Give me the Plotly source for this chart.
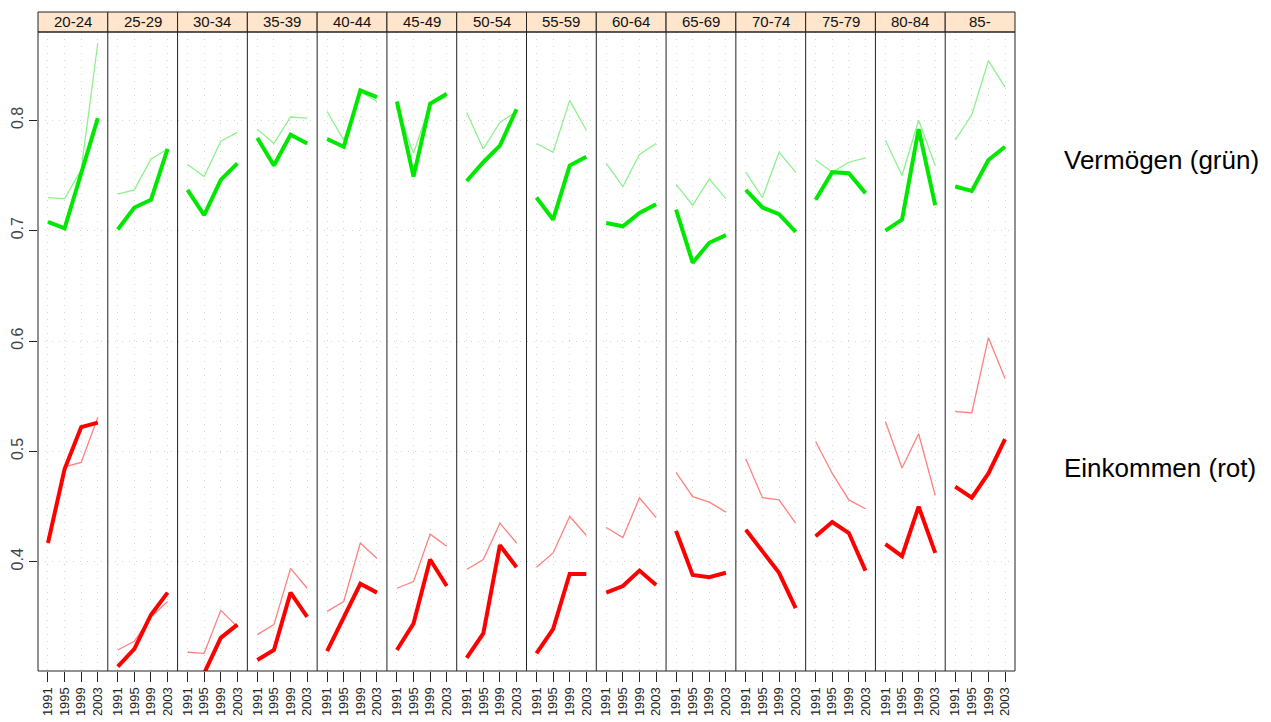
import plotly.graph_objects as go

groups = ["20-24", "25-29", "30-34", "35-39", "40-44", "45-49", "50-54",
          "55-59", "60-64", "65-69", "70-74", "75-79", "80-84", "85-"]
years = [1991, 1995, 1999, 2003]
year_labels = ["1991", "1995", "1999", "2003"]

# Vermögen (grün): thick and thin series
verm_thick = [
    [0.708, 0.702, 0.752, 0.802],
    [0.701, 0.721, 0.728, 0.774],
    [0.737, 0.714, 0.746, 0.761],
    [0.784, 0.759, 0.787, 0.779],
    [0.783, 0.776, 0.827, 0.821],
    [0.817, 0.749, 0.815, 0.824],
    [0.745, 0.762, 0.777, 0.810],
    [0.730, 0.710, 0.759, 0.767],
    [0.707, 0.704, 0.716, 0.724],
    [0.719, 0.671, 0.689, 0.696],
    [0.737, 0.721, 0.715, 0.699],
    [0.728, 0.753, 0.752, 0.734],
    [0.700, 0.710, 0.792, 0.723],
    [0.740, 0.736, 0.764, 0.776],
]
verm_thin = [
    [0.730, 0.729, 0.755, 0.870],
    [0.733, 0.737, 0.765, 0.774],
    [0.760, 0.749, 0.781, 0.789],
    [0.792, 0.779, 0.803, 0.802],
    [0.808, 0.782, 0.826, 0.817],
    [0.812, 0.770, 0.815, 0.821],
    [0.807, 0.774, 0.798, 0.808],
    [0.779, 0.771, 0.818, 0.791],
    [0.761, 0.740, 0.769, 0.779],
    [0.742, 0.723, 0.747, 0.729],
    [0.753, 0.730, 0.771, 0.753],
    [0.764, 0.753, 0.762, 0.766],
    [0.782, 0.750, 0.800, 0.759],
    [0.782, 0.805, 0.854, 0.830],
]
# Einkommen (rot): thick and thin series
eink_thick = [
    [0.417, 0.484, 0.522, 0.526],
    [0.305, 0.321, 0.352, 0.372],
    [0.285, 0.299, 0.331, 0.343],
    [0.311, 0.320, 0.372, 0.350],
    [0.319, 0.350, 0.380, 0.372],
    [0.320, 0.344, 0.402, 0.378],
    [0.313, 0.335, 0.415, 0.395],
    [0.317, 0.339, 0.389, 0.389],
    [0.372, 0.378, 0.392, 0.379],
    [0.428, 0.388, 0.386, 0.390],
    [0.429, 0.410, 0.390, 0.358],
    [0.423, 0.436, 0.426, 0.392],
    [0.416, 0.405, 0.450, 0.408],
    [0.468, 0.458, 0.480, 0.511],
]
eink_thin = [
    [0.418, 0.486, 0.490, 0.531],
    [0.320, 0.328, 0.350, 0.364],
    [0.318, 0.317, 0.356, 0.341],
    [0.334, 0.343, 0.394, 0.376],
    [0.355, 0.364, 0.417, 0.403],
    [0.376, 0.382, 0.425, 0.414],
    [0.393, 0.402, 0.435, 0.417],
    [0.395, 0.408, 0.441, 0.424],
    [0.431, 0.422, 0.458, 0.440],
    [0.481, 0.459, 0.454, 0.445],
    [0.493, 0.458, 0.456, 0.435],
    [0.509, 0.480, 0.456, 0.448],
    [0.527, 0.485, 0.516, 0.460],
    [0.536, 0.535, 0.603, 0.566],
]

FONT = "Liberation Sans, Arial, sans-serif"
W, H = 1271, 722
OFF = 8  # page body margin
L, T = 38 - OFF, 32 - OFF
R = W - (1015 - OFF)
B = H - (671 - OFF)
n = len(groups)
plot_h = H - T - B
plot_w = W - L - R
strip_h = 20 / plot_h

fig = go.Figure()
shapes = []
annotations = []

for i, g in enumerate(groups):
    ax = "" if i == 0 else str(i + 1)
    xa, ya = "x" + ax, "y" + ax
    series = [
        (verm_thin[i], "#8ff08f", 1.3),
        (eink_thin[i], "#ff8080", 1.3),
        (verm_thick[i], "#00e800", 4),
        (eink_thick[i], "#ff0000", 4),
    ]
    for vals, col, w in series:
        fig.add_trace(go.Scatter(x=years, y=vals, mode="lines", xaxis=xa, yaxis=ya,
                                 line=dict(color=col, width=w), showlegend=False,
                                 hoverinfo="skip"))
    d0, d1 = i / n, (i + 1) / n
    fig.layout["xaxis" + ax] = dict(
        domain=[d0, d1], range=[1988.6, 2005.4], tickvals=years, ticktext=year_labels,
        tickangle=-90, ticks="outside", ticklen=10, tickcolor="#222",
        tickfont=dict(size=13, color="#222", family=FONT),
        showline=False,
        showgrid=True, gridcolor="#d4d4d4", gridwidth=1, griddash="1px,6px",
        zeroline=False, anchor=ya, fixedrange=True, automargin=False,
    )
    ydict = dict(
        range=[0.301, 0.880], tickvals=[0.4, 0.5, 0.6, 0.7, 0.8],
        showline=False,
        showgrid=True, gridcolor="#d4d4d4", gridwidth=1, griddash="1px,6px",
        zeroline=False, anchor=xa, domain=[0, 1], fixedrange=True, automargin=False,
    )
    if i == 0:
        ydict.update(ticks="outside", ticklen=8, tickcolor="#222", tickangle=-90,
                     tickfont=dict(size=16, color="#444", family=FONT),
                     showticklabels=True)
    else:
        ydict.update(showticklabels=False, ticks="", matches="y")
    fig.layout["yaxis" + ax] = ydict
    shapes.append(dict(type="rect", xref="paper", yref="paper", x0=d0, x1=d1,
                       y0=1, y1=1 + strip_h, fillcolor="#ffe5cc",
                       line=dict(color="#222", width=1)))
    if i > 0:
        shapes.append(dict(type="line", xref="paper", yref="paper", x0=d0, x1=d0,
                           y0=0, y1=1, line=dict(color="#222", width=1)))
    annotations.append(dict(text=g, xref="paper", yref="paper", x=(d0 + d1) / 2,
                            y=1 + strip_h / 2, showarrow=False, xanchor="center",
                            yanchor="middle",
                            font=dict(size=15, color="#111", family=FONT)))

shapes.append(dict(type="rect", xref="paper", yref="paper", x0=0, x1=1, y0=0, y1=1,
                   line=dict(color="#222", width=1)))

text_x = (1062 - OFF - L) / plot_w
annotations.append(dict(text="Vermögen (grün)", xref="paper", yref="paper",
                        x=text_x, y=(H - B - (160 - OFF)) / plot_h,
                        xanchor="left", yanchor="middle", showarrow=False,
                        font=dict(size=26, color="#000", family=FONT)))
annotations.append(dict(text="Einkommen (rot)", xref="paper", yref="paper",
                        x=text_x, y=(H - B - (468 - OFF)) / plot_h,
                        xanchor="left", yanchor="middle", showarrow=False,
                        font=dict(size=26, color="#000", family=FONT)))

fig.update_layout(
    width=W, height=H, margin=dict(l=L, r=R, t=T, b=B, pad=0, autoexpand=False),
    paper_bgcolor="white", plot_bgcolor="white",
    shapes=shapes, annotations=annotations,
    font=dict(family=FONT),
)

fig.write_html("out.html")
